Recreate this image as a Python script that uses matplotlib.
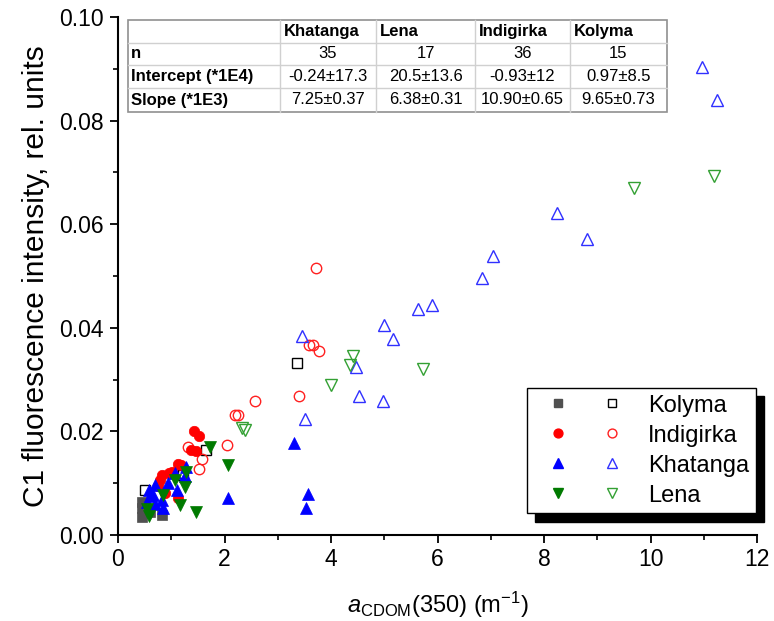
import matplotlib
matplotlib.use("Agg")
import matplotlib.pyplot as plt
from matplotlib.lines import Line2D
from matplotlib.patches import Rectangle
from matplotlib.legend_handler import HandlerTuple
from matplotlib.ticker import MultipleLocator

plt.rcParams['font.family'] = ['Liberation Sans', 'DejaVu Sans']
plt.rcParams['mathtext.fontset'] = 'custom'
plt.rcParams['mathtext.rm'] = 'Liberation Sans'
plt.rcParams['mathtext.it'] = 'Liberation Sans:italic'

# ---------------- data ----------------
kolyma_filled_x = [0.45, 0.45, 0.45, 0.82, 0.60]
kolyma_filled_y = [0.0064, 0.0052, 0.0035, 0.0039, 0.0045]
kolyma_open_x = [0.51, 1.18, 1.65, 3.36, 1.22]
kolyma_open_y = [0.0087, 0.0119, 0.0165, 0.0333, 0.0115]

indigirka_filled_x = [1.43, 1.53, 1.38, 1.46, 1.13, 1.18, 1.01, 0.82, 0.78, 0.88, 1.13, 0.95, 0.75]
indigirka_filled_y = [0.0201, 0.0191, 0.0164, 0.0163, 0.0138, 0.0135, 0.0122, 0.0116, 0.0106, 0.0082, 0.0071, 0.0120, 0.0095]
indigirka_open_x = [3.71, 3.59, 3.67, 3.78, 3.39, 2.57, 2.20, 2.26, 2.04, 1.32, 1.57, 1.52]
indigirka_open_y = [0.0515, 0.0367, 0.0367, 0.0356, 0.0269, 0.0259, 0.0232, 0.0232, 0.0174, 0.0169, 0.0146, 0.0127]

khatanga_filled_x = [3.31, 3.57, 3.53, 2.07, 1.28, 1.07, 1.26, 0.94, 1.10, 0.69, 0.59, 0.66, 0.54, 0.85, 0.82, 0.60, 0.70]
khatanga_filled_y = [0.0177, 0.0080, 0.0053, 0.0072, 0.0132, 0.0120, 0.0113, 0.0100, 0.0087, 0.0097, 0.0087, 0.0077, 0.0064, 0.0053, 0.0068, 0.0075, 0.0060]
khatanga_open_x = [10.96, 11.24, 8.25, 8.80, 7.04, 6.83, 5.64, 5.90, 5.00, 5.16, 3.45, 4.47, 4.53, 4.97, 3.52]
khatanga_open_y = [0.0904, 0.0840, 0.0622, 0.0572, 0.0539, 0.0497, 0.0436, 0.0444, 0.0405, 0.0378, 0.0384, 0.0324, 0.0269, 0.0259, 0.0223]

lena_filled_x = [1.73, 2.07, 1.28, 1.07, 1.25, 0.85, 1.16, 1.46, 0.54, 0.59]
lena_filled_y = [0.0170, 0.0135, 0.0122, 0.0106, 0.0093, 0.0077, 0.0058, 0.0044, 0.0050, 0.0037]
lena_open_x = [11.19, 9.69, 4.41, 4.36, 5.72, 4.00, 2.32, 2.39]
lena_open_y = [0.0693, 0.0670, 0.0345, 0.0328, 0.0320, 0.0290, 0.0207, 0.0203]

# table
table_cols = ["", "Khatanga", "Lena", "Indigirka", "Kolyma"]
table_rows = ["n", "Intercept (*1E4)", "Slope (*1E3)"]
table_vals = [["35", "17", "36", "15"],
              ["-0.24\u00b117.3", "20.5\u00b113.6", "-0.93\u00b112", "0.97\u00b18.5"],
              ["7.25\u00b10.37", "6.38\u00b10.31", "10.90\u00b10.65", "9.65\u00b10.73"]]

legend_labels = ["Kolyma", "Indigirka", "Khatanga", "Lena"]

# ---------------- figure ----------------
W, H = 774, 621
fig = plt.figure(figsize=(W / 100, H / 100), dpi=100)
ax = fig.add_axes([118 / W, 1 - 535 / H, (757 - 118) / W, (535 - 17) / H])

styles = [
    ("#505050", "black", "s", 6.8, 7.0),
    ("#ff0000", "#ff2020", "o", 7.5, 7.5),
    ("#0000ff", "#3030ff", "^", 9.0, 9.0),
    ("#007a00", "#33a033", "v", 9.0, 9.0),
]
series = [
    (kolyma_filled_x, kolyma_filled_y, kolyma_open_x, kolyma_open_y),
    (indigirka_filled_x, indigirka_filled_y, indigirka_open_x, indigirka_open_y),
    (khatanga_filled_x, khatanga_filled_y, khatanga_open_x, khatanga_open_y),
    (lena_filled_x, lena_filled_y, lena_open_x, lena_open_y),
]
handles = []
for (fc, oc, m, ms_f, ms_o), (fx_, fy_, ox, oy) in zip(styles, series):
    ax.plot(ox, oy, ls='none', marker=m, ms=ms_o, mfc='none', mec=oc, mew=1.0, zorder=3)
for (fc, oc, m, ms_f, ms_o), (fx_, fy_, ox, oy) in zip(styles, series):
    ax.plot(fx_, fy_, ls='none', marker=m, ms=ms_f, mfc=fc, mec=fc, mew=0.5, zorder=4)
for (fc, oc, m, ms_f, ms_o) in styles:
    h1 = Line2D([], [], ls='none', marker=m, ms=ms_f * 0.85, mfc=fc, mec=fc)
    h2 = Line2D([], [], ls='none', marker=m, ms=ms_o * 0.85, mfc='none', mec=oc, mew=1.0)
    handles.append((h1, h2))

ax.set_xlim(0, 12)
ax.set_ylim(0, 0.10)
ax.xaxis.set_major_locator(MultipleLocator(2))
ax.xaxis.set_minor_locator(MultipleLocator(1))
ax.yaxis.set_major_locator(MultipleLocator(0.02))
ax.yaxis.set_minor_locator(MultipleLocator(0.01))
ax.yaxis.set_major_formatter(plt.FuncFormatter(lambda v, p: f"{v:.2f}"))
for s in ['top', 'right']:
    ax.spines[s].set_visible(False)
for s in ['left', 'bottom']:
    ax.spines[s].set_linewidth(1.5)
ax.tick_params(which='major', direction='out', length=6, width=1.3, labelsize=16.5, pad=4)
ax.tick_params(axis='x', which='major', pad=3)
ax.tick_params(which='minor', direction='out', length=3.5, width=1.2)

ax.set_xlabel(r'$\mathit{a}_{\mathrm{CDOM}}$(350) (m$^{-1}$)', fontsize=17, labelpad=14)
ax.set_ylabel('C1 fluorescence intensity, rel. units', fontsize=21.5, labelpad=7)

leg = ax.legend(handles, legend_labels,
                handler_map={tuple: HandlerTuple(ndivide=None, pad=0.21)},
                loc='upper left', bbox_to_anchor=(527 / W, 1 - 388 / H),
                bbox_transform=fig.transFigure, borderaxespad=0,
                fontsize=17, frameon=True, fancybox=False, framealpha=1,
                edgecolor='black', handlelength=4.36, handletextpad=0.49,
                labelspacing=0.34, borderpad=0.28,
                shadow={'ox': 6, 'oy': -6, 'color': 'black', 'alpha': 1})
leg.get_frame().set_linewidth(1.0)

# ---------------- table ----------------
col_edges = [128, 280, 376, 475, 570, 667]
row_edges = [20, 43, 65, 88, 112]
fx = lambda x: x / W
fy = lambda y: 1 - y / H
fig.add_artist(Rectangle((fx(col_edges[0]), fy(row_edges[-1])),
                         fx(col_edges[-1]) - fx(col_edges[0]),
                         fy(row_edges[0]) - fy(row_edges[-1]),
                         transform=fig.transFigure, facecolor='white',
                         edgecolor='#909090', lw=1.2, zorder=5))
for xe in col_edges[1:-1]:
    fig.add_artist(Line2D([fx(xe), fx(xe)], [fy(row_edges[0]), fy(row_edges[-1])],
                          transform=fig.transFigure, color='#d0d0d0', lw=1.0, zorder=6))
for ye in row_edges[1:-1]:
    fig.add_artist(Line2D([fx(col_edges[0]), fx(col_edges[-1])], [fy(ye), fy(ye)],
                          transform=fig.transFigure, color='#d0d0d0', lw=1.0, zorder=6))

tfs = 12
for j, name in enumerate(table_cols[1:]):
    yc = (row_edges[0] + row_edges[1]) / 2
    fig.text(fx(col_edges[j + 1] + 4), fy(yc), name, ha='left', va='center',
             fontsize=tfs, fontweight='bold', zorder=7)
for i, rname in enumerate(table_rows):
    yc = (row_edges[i + 1] + row_edges[i + 2]) / 2
    fig.text(fx(col_edges[0] + 3), fy(yc), rname, ha='left', va='center',
             fontsize=tfs, fontweight='bold', zorder=7)
    for j, val in enumerate(table_vals[i]):
        xc = (col_edges[j + 1] + col_edges[j + 2]) / 2
        fig.text(fx(xc), fy(yc), val, ha='center', va='center', fontsize=tfs, zorder=7)

fig.savefig("out.png", dpi=100)
